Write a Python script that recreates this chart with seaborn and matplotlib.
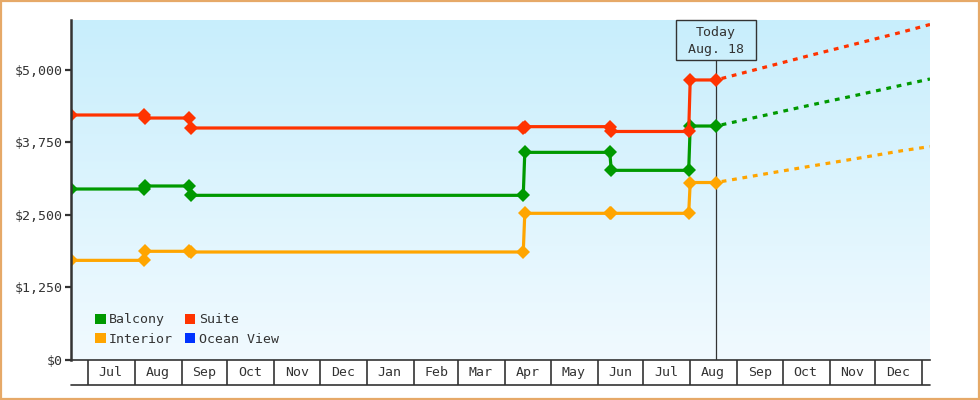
import numpy as np
import pandas as pd
import matplotlib
matplotlib.use('Agg')
import matplotlib.pyplot as plt
import matplotlib.dates as mdates
from matplotlib.patches import Rectangle, Patch
from matplotlib.ticker import FuncFormatter
import seaborn as sns

# price history, one value per check date
dates = ['2011-06-20', '2011-08-07', '2011-08-08', '2011-09-06', '2011-09-07',
         '2012-04-13', '2012-04-14', '2012-06-09', '2012-06-10',
         '2012-07-31', '2012-08-01', '2012-08-18']
suite = [4224, 4224, 4172, 4172, 4000, 4000, 4023, 4023, 3940, 3940, 4828, 4828]
balcony = [2948, 2948, 3000, 3000, 2839, 2839, 3580, 3580, 3270, 3270, 4034, 4034]
interior = [1718, 1718, 1874, 1874, 1862, 1862, 2529, 2529, 2529, 2529, 3060, 3060]

# projected prices after today
forecast_dates = ['2012-08-18', '2012-09-18', '2012-10-18', '2012-11-18',
                  '2012-12-18', '2013-01-06']
suite_fc = [4828, 5040, 5245, 5450, 5650, 5785]
balcony_fc = [4034, 4212, 4388, 4562, 4736, 4845]
interior_fc = [3060, 3202, 3336, 3471, 3606, 3680]

cabins = ['Balcony', 'Interior', 'Suite', 'Ocean View']
colors = {'Balcony': '#009900', 'Interior': '#ffa500',
          'Suite': '#ff3300', 'Ocean View': '#0033ff'}
y_ticks = [0, 1250, 2500, 3750, 5000]
today = '2012-08-18'
today_label = 'Today\nAug. 18'

TEXT = '#333333'


def long_form(x, series):
    rows = []
    for name, vals in series.items():
        for d, v in zip(x, vals):
            rows.append({'date': pd.Timestamp(d), 'price': v, 'cabin': name})
    return pd.DataFrame(rows)


def main():
    sns.set_style('white')
    plt.rcParams['font.family'] = ['DejaVu Sans Mono']
    plt.rcParams['font.size'] = 9.5

    hist = long_form(dates, {'Interior': interior, 'Balcony': balcony, 'Suite': suite})
    fc = long_form(forecast_dates, {'Interior': interior_fc, 'Balcony': balcony_fc,
                                    'Suite': suite_fc})
    order = ['Interior', 'Balcony', 'Suite']

    W, H = 980, 400
    fig = plt.figure(figsize=(W / 100, H / 100), dpi=100)
    rect = [71 / W, 40 / H, (930 - 71) / W, 340 / H]

    # gradient background in its own axes
    bg = fig.add_axes(rect, zorder=0)
    top = np.array([200, 238, 252]) / 255
    bot = np.array([241, 250, 255]) / 255
    t = np.linspace(0, 1, 256)[:, None]
    grad = (top * (1 - t) + bot * t)[:, None, :]
    bg.imshow(grad, aspect='auto', extent=[0, 1, 0, 1])
    bg.set_axis_off()

    ax = fig.add_axes(rect, zorder=1)
    ax.set_facecolor('none')

    sns.lineplot(data=hist, x='date', y='price', hue='cabin', hue_order=order,
                 palette=colors, estimator=None, marker='D', markersize=6.8,
                 markeredgewidth=0, linewidth=2.3, legend=False, ax=ax)
    sns.lineplot(data=fc, x='date', y='price', hue='cabin', hue_order=order,
                 palette=colors, estimator=None, linewidth=2.3,
                 linestyle=(1.5, (1.5, 1.8)), legend=False, ax=ax)

    ax.set_xlim(pd.Timestamp('2011-06-20'), pd.Timestamp('2013-01-06'))
    ax.set_ylim(0, 5862)
    ax.set_xlabel('')
    ax.set_ylabel('')

    # today marker
    td = pd.Timestamp(today)
    box_bottom = 1 - 40 / 340
    ax.axvline(td, ymin=0, ymax=box_bottom, color=TEXT, lw=0.9, zorder=0.5)
    half = pd.Timedelta(days=26.4)
    x0 = mdates.date2num(td - half)
    x1 = mdates.date2num(td + half)
    trans = ax.get_xaxis_transform()
    ax.add_patch(Rectangle((x0, box_bottom), x1 - x0, 1 - box_bottom,
                           transform=trans, fill=False, edgecolor=TEXT,
                           lw=1.0, clip_on=False, zorder=3))
    ax.text(td, (1 + box_bottom) / 2 - 0.004, today_label, transform=trans,
            ha='center', va='center', color=TEXT, fontsize=9.5,
            linespacing=1.4, zorder=3)

    # y axis
    ax.set_yticks(y_ticks)
    ax.yaxis.set_major_formatter(FuncFormatter(lambda v, p: '${:,.0f}'.format(v)))
    ax.tick_params(axis='y', direction='out', length=4, width=1.6, color=TEXT,
                   labelcolor=TEXT, pad=2, left=True)

    # x axis: one cell per month
    starts = pd.date_range('2011-07-01', '2013-01-01', freq='MS')
    mids = pd.date_range('2011-07-01', '2012-12-01', freq='MS') + pd.Timedelta(days=15)
    ax.set_xticks(starts)
    ax.set_xticklabels([])
    ax.set_xticks(mids, minor=True)
    ax.set_xticklabels([d.strftime('%b') for d in mids], minor=True)
    ax.tick_params(axis='x', which='major', direction='out', length=18,
                   width=1.2, color=TEXT, bottom=True)
    ax.tick_params(axis='x', which='minor', length=0, pad=4, labelcolor=TEXT,
                   labelsize=9.5, bottom=True)
    ax.plot([0, 1], [-25 / 340] * 2, transform=ax.transAxes, color=TEXT,
            lw=1.2, clip_on=False)

    for s in ['top', 'right']:
        ax.spines[s].set_visible(False)
    ax.spines['left'].set_color(TEXT)
    ax.spines['left'].set_linewidth(1.8)
    ax.spines['bottom'].set_color(TEXT)
    ax.spines['bottom'].set_linewidth(1.2)

    handles = [Patch(facecolor=colors[c], edgecolor='none', label=c) for c in cabins]
    ax.legend(handles=handles, ncol=2, loc='lower left',
              bbox_to_anchor=(0.022, 0.026), frameon=False, handlelength=0.8,
              handleheight=0.8, handletextpad=0.25, columnspacing=0.9,
              labelspacing=0.5, fontsize=9.5, labelcolor=TEXT, borderaxespad=0)

    # outer frame
    fig.add_artist(Rectangle((0.001, 0.002), 0.998, 0.996, transform=fig.transFigure,
                             fill=False, edgecolor='#e6a968', lw=1.6))

    fig.savefig('out.png', dpi=100)


if __name__ == '__main__':
    main()
